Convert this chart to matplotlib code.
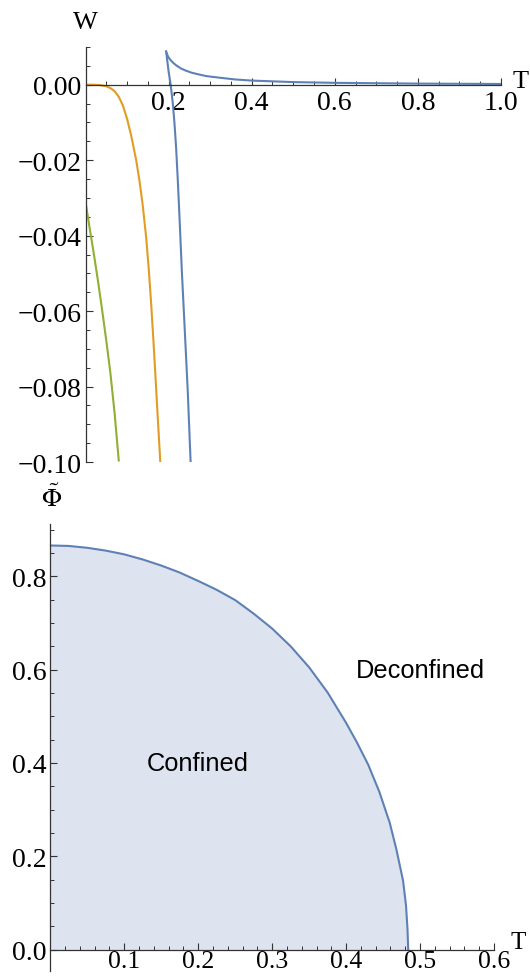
import numpy as np
import matplotlib
matplotlib.use("Agg")
import matplotlib.pyplot as plt
from matplotlib.ticker import MultipleLocator, FixedLocator, FuncFormatter

plt.rcParams.update({
    'font.family': 'Liberation Serif',
    'mathtext.fontset': 'stix',
    'font.size': 20,
})

# --- top panel: W(T) branches ---
blue_upper_T = [0.194, 0.197, 0.200, 0.205, 0.212, 0.220, 0.230, 0.240, 0.255, 0.270,
                0.290, 0.320, 0.360, 0.400, 0.450, 0.500, 0.600, 0.700, 0.800, 0.900, 1.000]
blue_upper_W = [0.0088, 0.0079, 0.0072, 0.0065, 0.0057, 0.0050, 0.0043, 0.0038, 0.0032, 0.0028,
                0.0023, 0.0019, 0.0014, 0.0011, 0.0009, 0.0007, 0.0005, 0.0004, 0.0003, 0.00025, 0.0002]
blue_lower_T = [0.194, 0.197, 0.200, 0.205, 0.210, 0.214, 0.218, 0.222, 0.227, 0.232,
                0.238, 0.246, 0.253]
blue_lower_W = [0.0088, 0.0062, 0.0035, 0.0, -0.0048, -0.0100, -0.0165, -0.0250, -0.0370, -0.0497,
                -0.0630, -0.0810, -0.1000]

orange_T = [0.0, 0.020, 0.035, 0.050, 0.060, 0.070, 0.080, 0.090, 0.100, 0.110,
            0.122, 0.130, 0.138, 0.146, 0.152, 0.158, 0.163, 0.168, 0.173, 0.180]
orange_W = [0.0, 0.0, -0.0001, -0.0004, -0.0009, -0.0017, -0.0032, -0.0055, -0.0090, -0.0135,
            -0.0200, -0.0255, -0.0322, -0.0405, -0.0485, -0.0580, -0.0670, -0.0765, -0.0865, -0.1000]

green_T = [0.0, 0.005, 0.010, 0.020, 0.030, 0.040, 0.050, 0.060, 0.070, 0.080]
green_W = [-0.0310, -0.0345, -0.0380, -0.0448, -0.0520, -0.0597, -0.0678, -0.0765, -0.0870, -0.0996]

# --- bottom panel: phase boundary ---
phase_T = [0.0, 0.025, 0.05, 0.075, 0.10, 0.125, 0.15, 0.175, 0.20, 0.225,
           0.25, 0.275, 0.30, 0.325, 0.35, 0.375, 0.40, 0.415, 0.43, 0.445,
           0.459, 0.468, 0.477, 0.481, 0.483, 0.484]
phase_Phi = [0.866, 0.865, 0.861, 0.855, 0.847, 0.836, 0.823, 0.808, 0.790, 0.771,
             0.749, 0.720, 0.688, 0.650, 0.605, 0.551, 0.486, 0.443, 0.396, 0.338,
             0.272, 0.215, 0.148, 0.095, 0.045, 0.0]

BLUE = '#5e81b5'
ORANGE = '#e19c24'
GREEN = '#8fb032'
FILL = '#dde3ef'

W_PX, H_PX = 530, 978
fig = plt.figure(figsize=(W_PX / 100, H_PX / 100), dpi=100)


def px_box(x0, x1, y_top, y_bot):
    return [x0 / W_PX, 1 - y_bot / H_PX, (x1 - x0) / W_PX, (y_bot - y_top) / H_PX]


def style_axes(ax):
    for s in ('top', 'right'):
        ax.spines[s].set_visible(False)
    for s in ('left', 'bottom'):
        ax.spines[s].set_linewidth(0.9)
        ax.spines[s].set_color('#333333')
    ax.tick_params(which='major', direction='in', length=4.8, width=0.8, color='#333333')
    ax.tick_params(which='minor', direction='in', length=2.9, width=0.7, color='#333333')
    ax.tick_params(axis='x', which='major', pad=4)
    ax.tick_params(axis='y', which='major', pad=3)


def fmt(decimals):
    return FuncFormatter(lambda v, p: f"{v:.{decimals}f}".replace('-', '\u2212'))


# top panel
ax1 = fig.add_axes(px_box(85.5, 501, 48, 463))
ax1.plot(blue_upper_T, blue_upper_W, color=BLUE, lw=1.5)
ax1.plot(blue_lower_T, blue_lower_W, color=BLUE, lw=1.5)
ax1.plot(orange_T, orange_W, color=ORANGE, lw=1.5)
ax1.plot(green_T, green_W, color=GREEN, lw=1.5)
ax1.set_xlim(0, 1.0)
ax1.set_ylim(-0.1, 0.01)
ax1.spines['left'].set_position(('data', 0))
ax1.spines['bottom'].set_position(('data', 0))
style_axes(ax1)
ax1.xaxis.set_major_locator(FixedLocator([0.2, 0.4, 0.6, 0.8, 1.0]))
ax1.xaxis.set_minor_locator(MultipleLocator(0.05))
ax1.yaxis.set_major_locator(FixedLocator([0.0, -0.02, -0.04, -0.06, -0.08, -0.10]))
ax1.yaxis.set_minor_locator(MultipleLocator(0.005))
ax1.xaxis.set_major_formatter(fmt(1))
ax1.yaxis.set_major_formatter(fmt(2))
fig.text(85 / W_PX, 1 - 23 / H_PX, 'W', ha='center', va='center', fontsize=19)
fig.text(521 / W_PX, 1 - 82 / H_PX, 'T', ha='center', va='center', fontsize=19)

# bottom panel
ax2 = fig.add_axes(px_box(50.3, 494, 525, 971.7))
ax2.fill_between(phase_T, 0, phase_Phi, color=FILL, lw=0)
ax2.plot(phase_T, phase_Phi, color=BLUE, lw=1.5)
ax2.set_xlim(0, 0.6)
ax2.set_ylim(-0.045, 0.912)
ax2.spines['bottom'].set_position(('data', 0))
style_axes(ax2)
ax2.tick_params(axis='x', which='major', pad=0.5, labelsize=18.5)
ax2.xaxis.set_major_locator(FixedLocator([0.1, 0.2, 0.3, 0.4, 0.5, 0.6]))
ax2.xaxis.set_minor_locator(MultipleLocator(0.02))
ax2.yaxis.set_major_locator(FixedLocator([0.0, 0.2, 0.4, 0.6, 0.8]))
ax2.yaxis.set_minor_locator(MultipleLocator(0.05))
ax2.xaxis.set_major_formatter(fmt(1))
ax2.yaxis.set_major_formatter(fmt(1))
ax2.text(0.2, 0.40, 'Confined', ha='center', va='center',
         fontsize=18.3, family='Liberation Sans')
ax2.text(0.5, 0.60, 'Deconfined', ha='center', va='center',
         fontsize=18.3, family='Liberation Sans')
fig.text(518 / W_PX, 1 - 943 / H_PX, 'T', ha='center', va='center', fontsize=18)
fig.text(51.7 / W_PX, 1 - 498 / H_PX, r'$\tilde{\Phi}$', ha='center', va='center', fontsize=19)

fig.savefig('out.png', dpi=100, facecolor='white')
